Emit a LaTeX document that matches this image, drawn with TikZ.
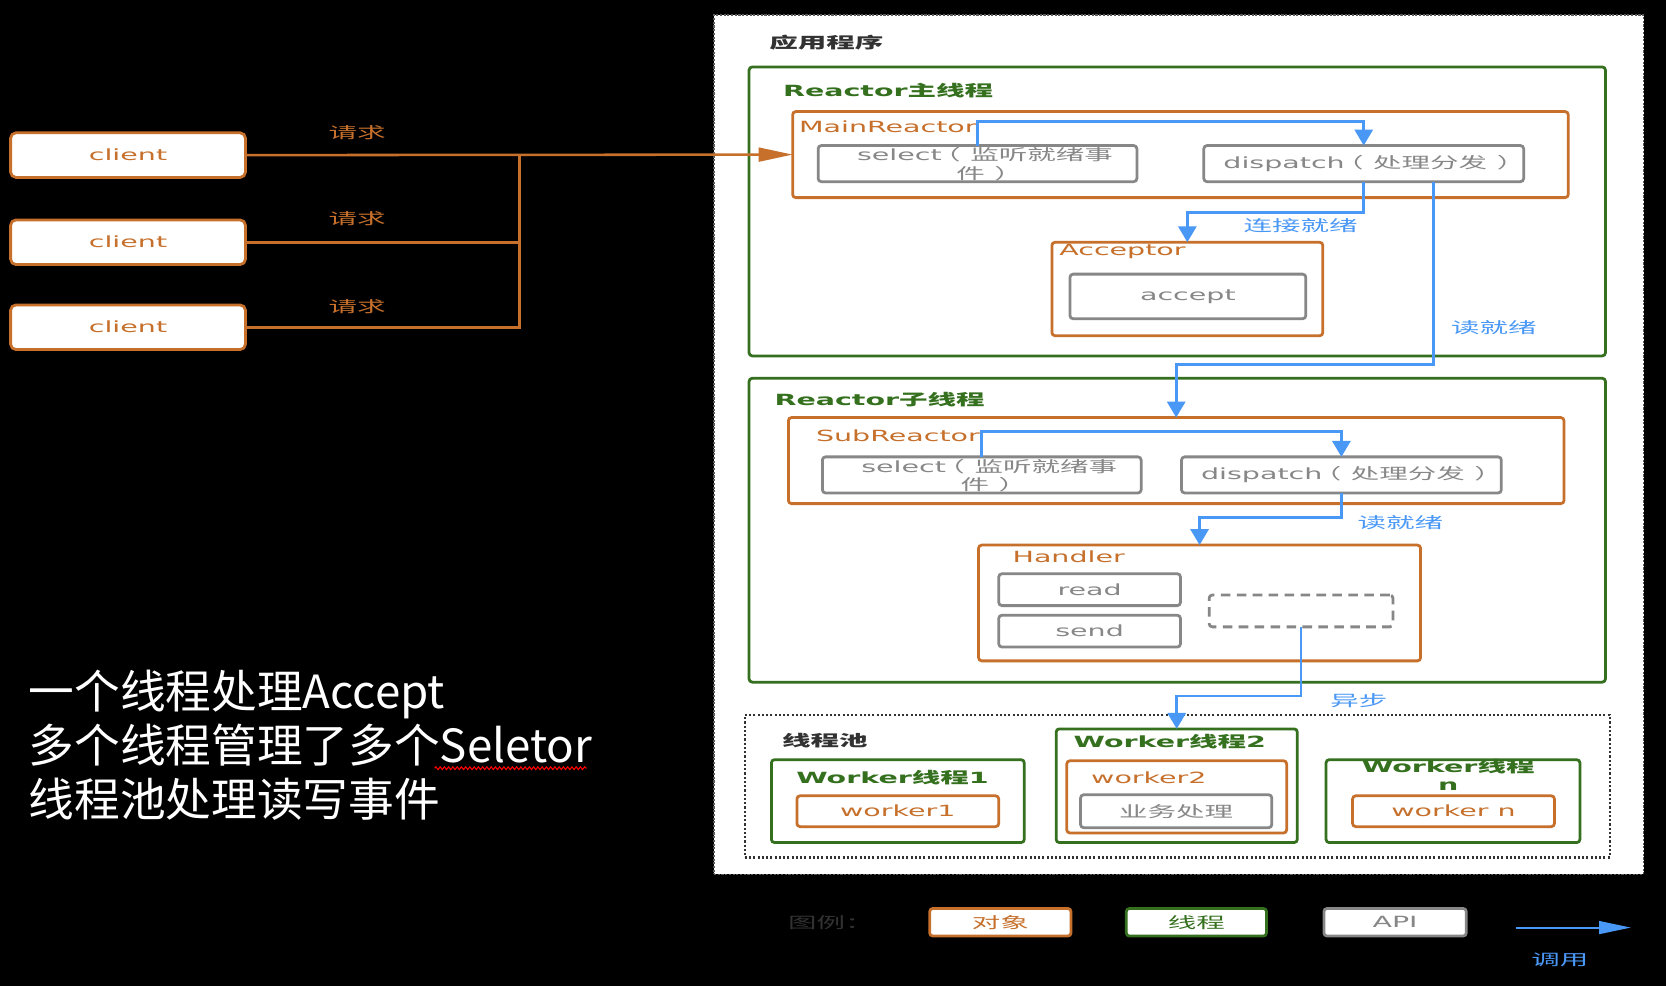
\documentclass[tikz,border=0pt]{standalone}
\usepackage{fontspec}
\setmainfont{DejaVu Sans}[FakeStretch=1.85]
\newfontfamily\cjf{Noto Sans CJK SC}[FakeStretch=1.85]
\newfontfamily\bigf{Noto Sans CJK SC}
\newcommand\cj[1]{{\cjf #1}}
\newcommand\lpar{\kern-9pt\cj{（}\kern9pt}
\newcommand\rpar{\kern9pt\cj{）}\kern-9pt}
\usetikzlibrary{arrows.meta,decorations.pathmorphing}
\definecolor{org}{RGB}{198,112,44}
\definecolor{grn}{RGB}{52,112,30}
\definecolor{gry}{RGB}{135,135,135}
\definecolor{blu}{RGB}{74,152,245}
\definecolor{dk}{RGB}{50,50,50}
\begin{document}
\begin{tikzpicture}[x=1pt,y=-1pt,
  every node/.style={inner sep=0pt,outer sep=0pt},
  tx/.style={font=\fontsize{14.5}{17}\selectfont},
  tbx/.style={font=\fontsize{14.5}{17}\selectfont\bfseries},
  bx/.style={rectangle,draw,rounded corners=3pt,line width=2.6pt,fill=white},
  obox/.style={bx,draw=org},
  gbox/.style={bx,draw=grn},
  ybox/.style={bx,draw=gry},
  blue line/.style={draw=blu,line width=2.6pt,-{Triangle[length=15pt,width=17pt]}},
  orange line/.style={draw=org,line width=2.4pt},
  bigtext/.style={font=\bigf\fontsize{43}{51}\selectfont,text=white,anchor=base west},
]
\fill[black] (0,0) rectangle (1568,928);
\useasboundingbox (0,0) rectangle (1568,928);

% application frame
\node[rectangle,fill=white,draw=dk!80,line width=1.2pt,dash pattern=on 2pt off 1.5pt,minimum width=875pt,minimum height=809pt] (app) at (1109.5,418.5) {};
\node[tbx,text=dk,anchor=west] (appl) at (724,40) {\cj{应用程序}};

% Reactor main thread
\node[gbox,minimum width=806pt,minimum height=272pt] (mt) at (1108,199) {};
\node[tbx,text=grn,anchor=west] (mtl) at (737,85) {Reactor\cj{主线程}};
\node[obox,minimum width=730pt,minimum height=81pt] (mr) at (1111,145.5) {};
\node[tx,text=org,anchor=west] (mrl) at (752,119) {MainReactor};
\node[ybox,minimum width=300pt,minimum height=34pt] (sel1) at (920,154) {};
\node[tx,text=gry,align=center] (sel1t) at (927,154.5) {select\lpar\cj{监听就绪事}\\\cj{件}\rpar};
\node[ybox,minimum width=301pt,minimum height=34pt,tx,text=gry] (disp1) at (1283.5,154) {};
\node[tx,text=gry] (disp1t) at (1289,154) {dispatch\lpar\cj{处理分发}\rpar};
\node[obox,minimum width=255pt,minimum height=88pt] (acc) at (1117.5,272) {};
\node[tx,text=org,anchor=west] (accl) at (997,237) {Acceptor};
\node[ybox,minimum width=222pt,minimum height=42pt,tx,text=gry] (acpt) at (1118,279) {accept};

% Reactor sub thread
\node[gbox,minimum width=806pt,minimum height=286pt] (st) at (1108,499) {};
\node[tbx,text=grn,anchor=west] (stl) at (729,376) {Reactor\cj{子线程}};
\node[obox,minimum width=730pt,minimum height=81pt] (sub) at (1107,433.5) {};
\node[tx,text=org,anchor=west] (subl) at (768,410) {SubReactor};
\node[ybox,minimum width=300pt,minimum height=34pt] (sel2) at (924,447) {};
\node[tx,text=gry,align=center] (sel2t) at (931,447.5) {select\lpar\cj{监听就绪事}\\\cj{件}\rpar};
\node[ybox,minimum width=301pt,minimum height=34pt] (disp2) at (1262.5,447) {};
\node[tx,text=gry] (disp2t) at (1268,447) {dispatch\lpar\cj{处理分发}\rpar};
\node[obox,minimum width=416pt,minimum height=109pt] (hd) at (1129,567.5) {};
\node[tx,text=org,anchor=west] (hdl) at (953,524) {Handler};
\node[ybox,minimum width=171pt,minimum height=30pt,tx,text=gry] (rd) at (1025.5,555) {read};
\node[ybox,minimum width=171pt,minimum height=30pt,tx,text=gry] (sd) at (1025.5,594) {send};
\node[rectangle,draw=gry,line width=2.6pt,rounded corners=3pt,dash pattern=on 9pt off 6pt,minimum width=173pt,minimum height=30pt] (dsh) at (1224.5,575) {};

% thread pool
\node[rectangle,draw=dk,line width=2pt,dash pattern=on 2pt off 2pt,minimum width=814pt,minimum height=134pt] (pool) at (1108,740) {};
\node[tbx,text=dk,anchor=west] (pooll) at (736,697) {\cj{线程池}};
\node[gbox,minimum width=238pt,minimum height=78pt] (w1t) at (845,754) {};
\node[tbx,text=grn] (w1tl) at (840,732) {Worker\cj{线程}1};
\node[obox,minimum width=190pt,minimum height=29pt,tx,text=org] (w1) at (845,763.5) {worker1};
\node[gbox,minimum width=227pt,minimum height=107pt] (w2t) at (1107.5,739.5) {};
\node[tbx,text=grn] (w2tl) at (1101,698) {Worker\cj{线程}2};
\node[obox,minimum width=207pt,minimum height=68pt] (w2) at (1107.5,750) {};
\node[tx,text=org,anchor=west] (w2l) at (1027,732) {worker2};
\node[ybox,minimum width=180pt,minimum height=31pt,tx,text=gry] (biz) at (1107,763.5) {\cj{业务处理}};
\node[gbox,minimum width=239pt,minimum height=78pt] (wnt) at (1367.5,754) {};
\node[tbx,text=grn,align=center] (wntl) at (1363,729) {Worker\cj{线程}\\n};
\node[obox,minimum width=190pt,minimum height=29pt,tx,text=org] (wn) at (1368,763.5) {worker n};

% legend
\node[tx,text=dk] (lgl) at (782,868) {\cj{图例：}};
\node[obox,minimum width=133pt,minimum height=26pt,tx,text=org] (lo) at (941.5,868) {\cj{对象}};
\node[gbox,minimum width=132pt,minimum height=26pt,tx,text=grn] (lg) at (1126,868) {\cj{线程}};
\node[ybox,minimum width=134pt,minimum height=26pt,tx,text=gry] (la) at (1313,868) {API};
\coordinate (ca1) at (1427,873);
\coordinate (ca2) at (1535,873);
\draw[draw=blu,line width=2pt,-{Triangle[length=30pt,width=12pt]}] (ca1) -- (ca2);
\node[tx,text=blu] (lcall) at (1468,903) {\cj{调用}};

% clients
\node[obox,rounded corners=5pt,minimum width=221pt,minimum height=42pt,tx,text=org] (c1) at (120.5,146) {client};
\node[obox,rounded corners=5pt,minimum width=221pt,minimum height=42pt,tx,text=org] (c2) at (120.5,228) {client};
\node[obox,rounded corners=5pt,minimum width=221pt,minimum height=42pt,tx,text=org] (c3) at (120.5,308) {client};
\node[tx,text=org] (rq1) at (336,125) {\cj{请求}};
\node[tx,text=org] (rq2) at (336,206) {\cj{请求}};
\node[tx,text=org] (rq3) at (336,289) {\cj{请求}};

% left big text
\node[bigtext] (b1) at (27,667) {一个线程处理Accept};
\node[bigtext] (b2) at (27,718) {多个线程管理了多个Seletor};
\node[bigtext] (b3) at (27,768) {线程池处理读写事件};
\coordinate (wv1) at (409,723);
\coordinate (wv2) at (552,723);
\draw[red,line width=1pt,decorate,decoration={snake,amplitude=1.3pt,segment length=4pt}] (wv1) -- (wv2);

% connectors
\coordinate (j) at (489,146);
\draw[orange line,-{Triangle[length=32pt,width=13pt]}] (c1.east) -- (mr.west);
\draw[orange line] (c2.east) -| (j);
\draw[orange line] (c3.east) -| (j);

\draw[blue line] (sel1.north) -- ++(0,-23) -| (disp1.north);
\draw[blue line] (disp1.south) -- ++(0,29) -| (acc.north);
\draw[blue line] ([xshift=65.5pt]disp1.south) -- ++(0,172) -| (sub.north);
\draw[blue line] (sel2.north) -- ++(0,-24) -| (disp2.north);
\draw[blue line] (disp2.south) -- ++(0,23) -| (hd.north);
\draw[blue line] (dsh.south) -- ++(0,65) -| (w2t.north);

\node[tx,text=blu] (l1) at (1224,212) {\cj{连接就绪}};
\node[tx,text=blu] (l2) at (1406,308) {\cj{读就绪}};
\node[tx,text=blu] (l3) at (1318,492) {\cj{读就绪}};
\node[tx,text=blu] (l4) at (1279,659) {\cj{异步}};
\end{tikzpicture}
\end{document}
